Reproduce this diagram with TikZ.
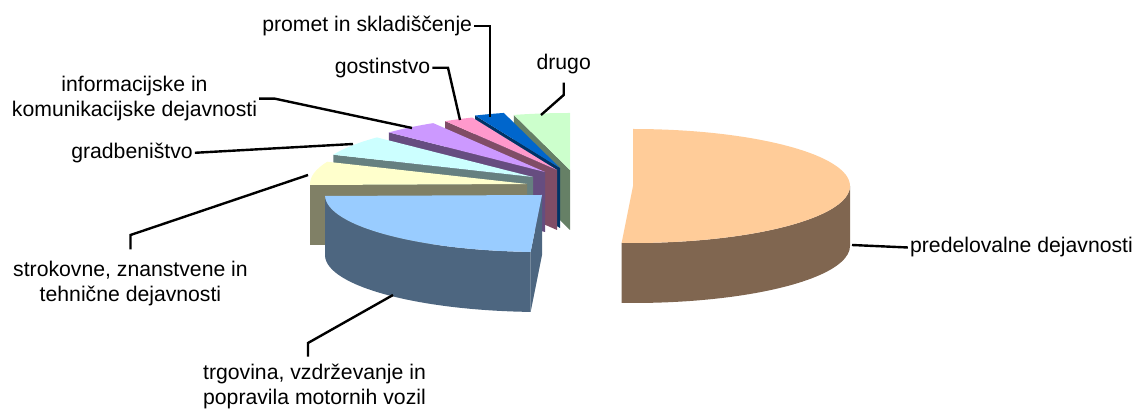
\documentclass[tikz,border=0pt]{standalone}
\usepackage{fontspec}
\setmainfont{Liberation Sans}
\usepackage{tikz}
\definecolor{predTop}{HTML}{FFCC99}
\definecolor{predSide}{HTML}{806650}
\definecolor{trgTop}{HTML}{99CCFF}
\definecolor{trgSide}{HTML}{4D6680}
\definecolor{strTop}{HTML}{FFFFCC}
\definecolor{strSide}{HTML}{808066}
\definecolor{gradTop}{HTML}{CCFFFF}
\definecolor{gradSide}{HTML}{668080}
\definecolor{infTop}{HTML}{CC99FF}
\definecolor{infSide}{HTML}{664D80}
\definecolor{gostTop}{HTML}{FF99CC}
\definecolor{gostSide}{HTML}{804D66}
\definecolor{promTop}{HTML}{0066CC}
\definecolor{promSide}{HTML}{003366}
\definecolor{drugTop}{HTML}{CCFFCC}
\definecolor{drugSide}{HTML}{668066}

\begin{document}
\begin{tikzpicture}[x=1pt,y=1pt,
  lbl/.style={font=\fontsize{21.2}{25}\selectfont,inner sep=2pt,align=center},
  lead/.style={line width=2.4pt,black}]
\useasboundingbox (0,0) rectangle (1136,412);
% slices, back to front
\fill[drugSide] (570,242) -- ++(105:217pt and 57pt) -- ++(0,-60) -- (570,182) -- cycle;
\fill[drugTop] (570,242) -- ++(90:217pt and 57pt) arc (90:105:217pt and 57pt) -- cycle;
\fill[promSide] (560,244) -- ++(113:217pt and 57pt) -- ++(0,-60) -- (560,184) -- cycle;
\fill[promTop] (560,244) -- ++(105:217pt and 57pt) arc (105:113:217pt and 57pt) -- cycle;
\fill[gostSide] (557,242) -- ++(121:217pt and 57pt) -- ++(0,-60) -- (557,182) -- cycle;
\fill[gostTop] (557,242) -- ++(113:217pt and 57pt) arc (113:121:217pt and 57pt) -- cycle;
\fill[infSide] (545,240) -- ++(136:217pt and 57pt) -- ++(0,-60) -- (545,180) -- cycle;
\fill[infTop] (545,240) -- ++(121:217pt and 57pt) arc (121:136:217pt and 57pt) -- cycle;
\fill[gradSide] (533,235) -- ++(157:217pt and 57pt) -- ++(0,-60) -- (533,175) -- cycle;
\fill[gradTop] (533,235) -- ++(136:217pt and 57pt) arc (136:157:217pt and 57pt) -- cycle;
\fill[strSide] (527,228) -- ++(181:217pt and 57pt) -- ++(0,-60) -- (527,168) -- cycle;
\fill[strSide] (527,228) ++(180:217pt and 57pt) arc (180:181:217pt and 57pt) -- ++(0,-60) arc (181:180:217pt and 57pt) -- cycle;
\fill[strTop] (527,228) -- ++(157:217pt and 57pt) arc (157:181:217pt and 57pt) -- cycle;
\fill[trgSide] (542,217) -- ++(267:217pt and 57pt) -- ++(0,-60) -- (542,157) -- cycle;
\fill[trgSide] (542,217) ++(181:217pt and 57pt) arc (181:267:217pt and 57pt) -- ++(0,-60) arc (267:181:217pt and 57pt) -- cycle;
\fill[trgTop] (542,217) -- ++(181:217pt and 57pt) arc (181:267:217pt and 57pt) -- cycle;
\fill[predSide] (633,226) ++(0:217pt and 57pt) arc (0:-93:217pt and 57pt) -- ++(0,-60) arc (-93:0:217pt and 57pt) -- cycle;
\fill[predTop] (633,226) -- ++(90:217pt and 57pt) arc (90:-93:217pt and 57pt) -- cycle;
% leader ends
\coordinate (kPred) at (852,167);
\coordinate (kProm) at (490,295);
\coordinate (kGost) at (460,292);
\coordinate (kDrug) at (541,297);
\coordinate (kInf) at (412,284);
\coordinate (kGrad) at (353,268);
\coordinate (kStr) at (308,237);
\coordinate (kTrg) at (393,117);
\coordinate (bGost) at (448,344);
\coordinate (bDrug) at (564,317);
\coordinate (bInf) at (275,315);
\coordinate (bStr) at (130,177);
\coordinate (bTrg) at (308,69);
% labels
\node[lbl] (lPred) at (1021.5,164.5) {predelovalne dejavnosti};
\node[lbl] (lProm) at (367.2,385.8) {promet in skladiščenje};
\node[lbl] (lGost) at (382.5,344.2) {gostinstvo};
\node[lbl,inner ysep=8pt] (lDrug) at (563.7,347.5) {drugo};
\node[lbl] (lInf) at (134.5,313.3) {informacijske in\\komunikacijske dejavnosti};
\node[lbl] (lGrad) at (132,259.2) {gradbeništvo};
\node[lbl,inner ysep=12pt] (lStr) at (130.5,128) {strokovne, znanstvene in\\tehnične dejavnosti};
\node[lbl,align=left,inner ysep=7pt] (lTrg) at (314.5,25.7) {trgovina, vzdrževanje in\\popravila motornih vozil};
% leaders
\draw[lead] (kPred) -- (lPred.west);
\draw[lead] (lProm.east) -- (lProm.east -| kProm) -- (kProm);
\draw[lead] (lGost.east) -- (lGost.east -| bGost) -- (kGost);
\draw[lead] (lDrug.south) -- (lDrug.south |- bDrug) -- (kDrug);
\draw[lead] (lInf.east) -- (lInf.east -| bInf) -- (kInf);
\draw[lead] (lGrad.east) -- (kGrad);
\draw[lead] (lStr.north) -- (lStr.north |- bStr) -- (kStr);
\draw[lead] (bTrg |- lTrg.north) -- (bTrg) -- (kTrg);
\end{tikzpicture}
\end{document}
